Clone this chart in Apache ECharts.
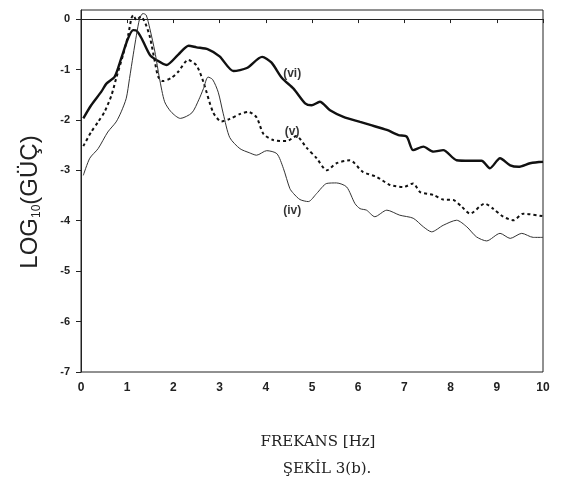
<!DOCTYPE html>
<html>
<head>
<meta charset="utf-8">
<script src="https://cdn.jsdelivr.net/npm/echarts@6/dist/echarts.min.js"></script>
<style>html,body{margin:0;padding:0;background:#fff;}#c{width:577px;height:483px;}</style>
</head>
<body>
<div id="c"></div>
<script>
const xTicks = [0,1,2,3,4,5,6,7,8,9,10];
const yTicks = [-7,-6,-5,-4,-3,-2,-1,0];

const curveVI = [[0.05,-1.97],[0.22,-1.71],[0.44,-1.44],[0.55,-1.28],[0.73,-1.14],[0.87,-0.78],[1.02,-0.38],[1.13,-0.22],[1.2,-0.23],[1.31,-0.38],[1.49,-0.71],[1.63,-0.81],[1.85,-0.91],[2.1,-0.71],[2.33,-0.53],[2.5,-0.56],[2.75,-0.6],[3.0,-0.74],[3.3,-1.03],[3.59,-0.97],[3.92,-0.75],[4.12,-0.86],[4.35,-1.17],[4.6,-1.38],[4.85,-1.67],[4.99,-1.71],[5.17,-1.64],[5.39,-1.81],[5.68,-1.94],[6.04,-2.04],[6.26,-2.1],[6.62,-2.2],[6.87,-2.3],[7.05,-2.33],[7.19,-2.6],[7.41,-2.53],[7.63,-2.63],[7.84,-2.6],[8.13,-2.8],[8.42,-2.81],[8.67,-2.81],[8.85,-2.96],[9.07,-2.76],[9.29,-2.9],[9.47,-2.93],[9.72,-2.86],[10,-2.83]];

const curveV = [[0.05,-2.52],[0.22,-2.24],[0.37,-2.04],[0.51,-1.84],[0.66,-1.51],[0.76,-1.18],[0.91,-0.71],[1.02,-0.32],[1.09,0.01],[1.13,0.08],[1.2,-0.02],[1.3,0.05],[1.4,-0.1],[1.49,-0.35],[1.6,-0.85],[1.67,-1.14],[1.77,-1.23],[1.95,-1.17],[2.1,-1.05],[2.32,-0.81],[2.5,-0.92],[2.65,-1.25],[2.86,-1.85],[3.04,-2.03],[3.22,-1.98],[3.45,-1.88],[3.62,-1.84],[3.8,-1.95],[3.95,-2.28],[4.16,-2.4],[4.45,-2.42],[4.66,-2.32],[4.88,-2.55],[5.1,-2.76],[5.32,-3.0],[5.53,-2.86],[5.82,-2.8],[6.1,-3.03],[6.4,-3.13],[6.69,-3.29],[6.98,-3.33],[7.19,-3.26],[7.34,-3.43],[7.63,-3.49],[7.84,-3.58],[8.06,-3.59],[8.24,-3.72],[8.42,-3.86],[8.74,-3.66],[8.92,-3.76],[9.14,-3.92],[9.36,-3.99],[9.57,-3.86],[10,-3.91]];

const curveIV = [[0.05,-3.1],[0.19,-2.76],[0.37,-2.57],[0.58,-2.24],[0.76,-2.04],[0.87,-1.84],[0.98,-1.57],[1.05,-1.18],[1.13,-0.71],[1.2,-0.32],[1.27,0.01],[1.34,0.11],[1.41,0.08],[1.49,-0.19],[1.6,-0.65],[1.7,-1.18],[1.81,-1.64],[1.95,-1.84],[2.15,-1.97],[2.4,-1.86],[2.55,-1.6],[2.65,-1.38],[2.75,-1.15],[2.85,-1.2],[2.97,-1.45],[3.08,-1.88],[3.22,-2.35],[3.44,-2.57],[3.64,-2.65],[3.8,-2.7],[4.02,-2.61],[4.24,-2.67],[4.38,-2.96],[4.52,-3.36],[4.6,-3.46],[4.74,-3.58],[4.92,-3.62],[5.1,-3.46],[5.32,-3.26],[5.53,-3.25],[5.75,-3.33],[5.93,-3.66],[6.04,-3.76],[6.18,-3.79],[6.36,-3.92],[6.62,-3.79],[6.9,-3.89],[7.19,-3.95],[7.41,-4.12],[7.59,-4.22],[7.84,-4.09],[8.13,-3.99],[8.35,-4.12],[8.56,-4.32],[8.78,-4.4],[9.07,-4.25],[9.29,-4.35],[9.54,-4.25],[9.79,-4.33],[10,-4.33]];

const curveLabels = ['(vi)', '(v)', '(iv)'];
const labelPoints = [[4.57,-1.09],[4.57,-2.24],[4.57,-3.81]];

const chart = echarts.init(document.getElementById('c'), null, {renderer:'canvas'});
const axisCol = '#222';
chart.setOption({
  backgroundColor: '#fff',
  animation: false,
  grid: {left: 81, right: 34, top: 10, bottom: 111, show: true, borderColor: axisCol, borderWidth: 1, backgroundColor: 'transparent'},
  title: [
    {text: 'FREKANS [Hz]', left: 313, top: 430, textAlign: 'center',
     textStyle: {fontFamily: 'DejaVu Serif', fontSize: 15, fontWeight: 'normal', color: '#222'}},
    {text: 'ŞEKİL 3(b).', left: 322, top: 457, textAlign: 'center',
     textStyle: {fontFamily: 'DejaVu Serif', fontSize: 15, fontWeight: 'normal', color: '#222'}}
  ],
  xAxis: {
    type: 'value', min: 0, max: 10, interval: 1,
    axisLine: {show: true, lineStyle: {color: axisCol, width: 1}},
    axisTick: {show: true, length: 4, lineStyle: {color: axisCol}},
    splitLine: {show: false},
    axisLabel: {margin: 10, fontFamily: 'Liberation Sans', fontSize: 12, fontWeight: 'bold', color: '#222',
      customValues: xTicks}
  },
  yAxis: {
    type: 'value', min: -7, max: 0.18,
    axisLine: {show: true, lineStyle: {color: axisCol, width: 1}},
    axisTick: {show: true, length: 5, lineStyle: {color: axisCol}, customValues: yTicks},
    splitLine: {show: false},
    axisLabel: {margin: 11, fontFamily: 'Liberation Sans', fontSize: 11, fontWeight: 'bold', color: '#222',
      customValues: yTicks},
    name: '{a|LOG}{b|10}{a|(GÜÇ)}',
    nameLocation: 'middle', nameGap: 38, nameRotate: 90,
    nameTextStyle: {
      color: '#222',
      padding: [0, 22, 0, 0],
      rich: {
        a: {fontFamily: 'Liberation Sans', fontSize: 24, color: '#222', lineHeight: 26},
        b: {fontFamily: 'Liberation Sans', fontSize: 12, color: '#222', verticalAlign: 'bottom', lineHeight: 22}
      }
    }
  },
  series: [
    {type: 'line', data: curveVI, showSymbol: false, smooth: 0.25,
     lineStyle: {color: '#111', width: 2.4}},
    {type: 'line', data: curveV, showSymbol: false, smooth: 0.25,
     lineStyle: {color: '#111', width: 2, type: [3, 3]}},
    {type: 'line', data: curveIV, showSymbol: false, smooth: 0.25,
     lineStyle: {color: '#333', width: 1}},
    {type: 'scatter', symbolSize: 0, silent: true,
     data: labelPoints.map((p, i) => ({value: p, name: curveLabels[i]})),
     label: {show: true, position: 'inside', formatter: p => p.name,
       fontFamily: 'Liberation Sans', fontSize: 12, fontWeight: 'bold', color: '#000'}}
  ]
});
</script>
</body>
</html>
